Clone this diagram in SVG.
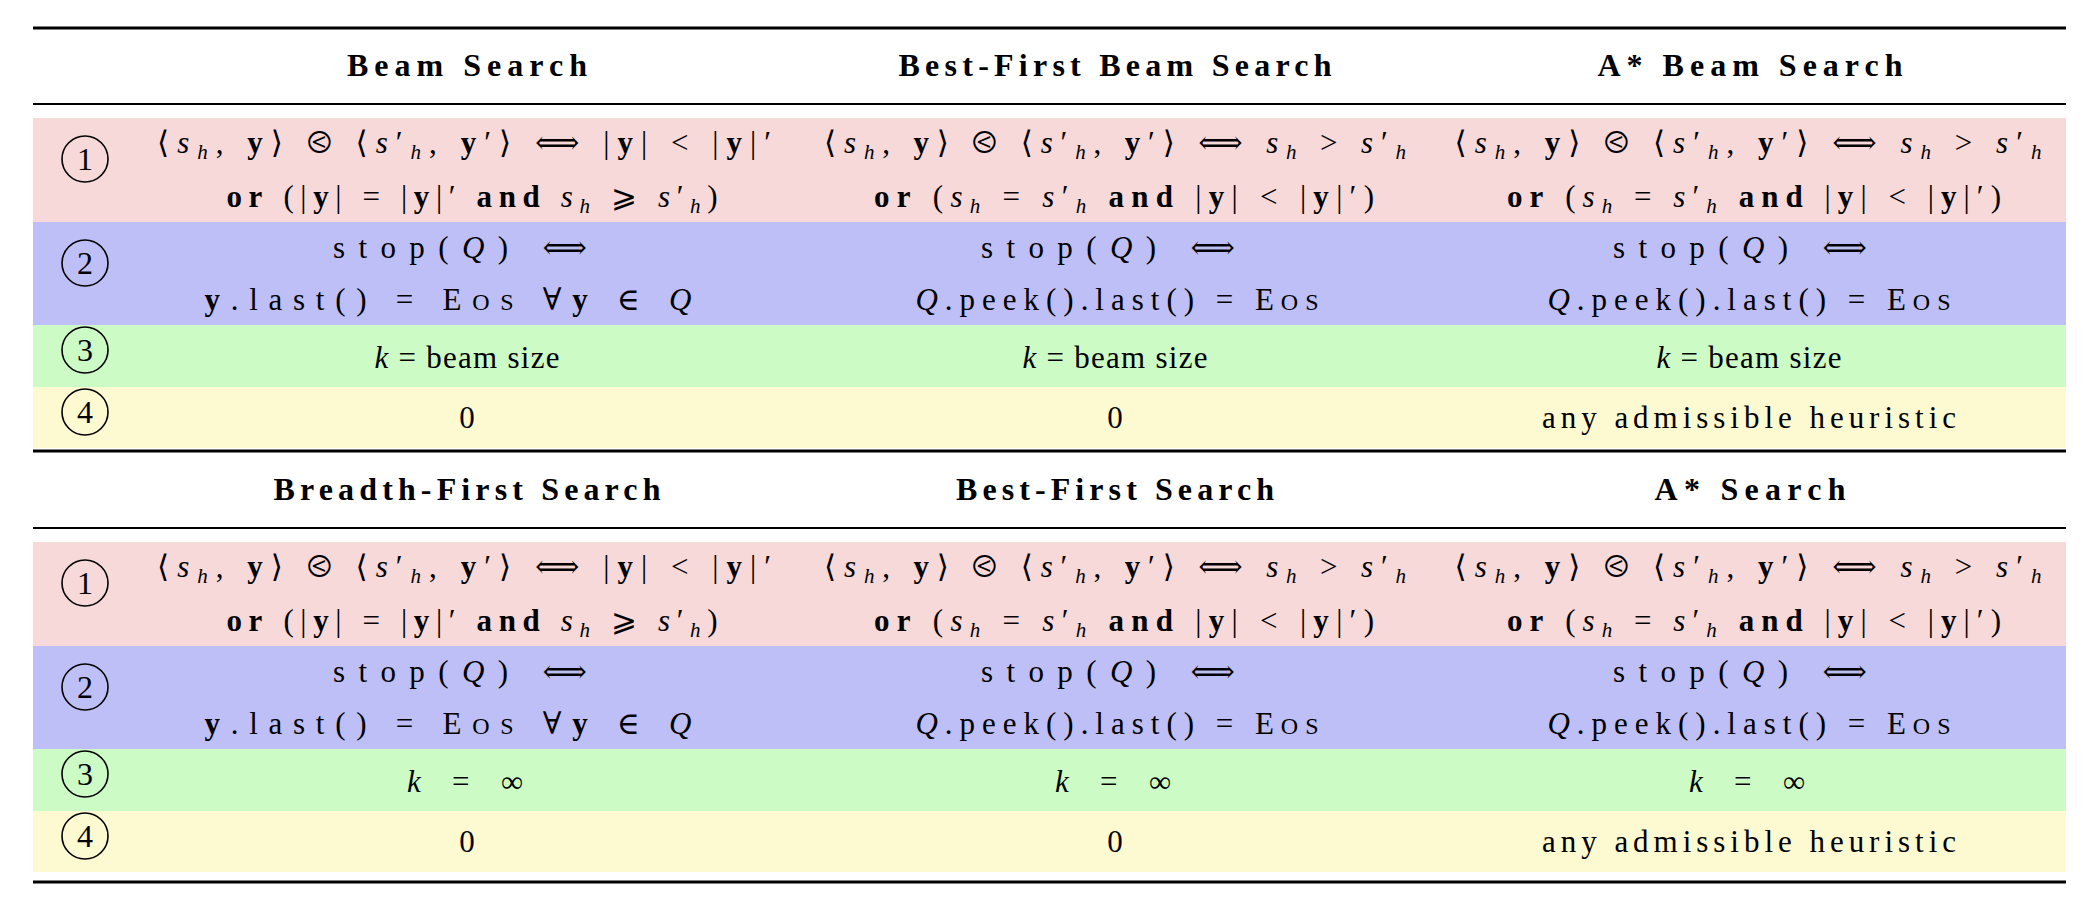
<svg xmlns="http://www.w3.org/2000/svg" width="2092" height="914" viewBox="0 0 2092 914">
<style>
text{font-family:"Liberation Serif","DejaVu Serif",serif;fill:#000}
.h{font-size:32px;font-weight:bold;text-anchor:middle}
.m{font-size:31px;text-anchor:middle}
.i{font-style:italic}
.b{font-weight:bold}
.s{font-size:21px;font-style:italic}
.sc{font-size:24px}
.n{font-size:32px;text-anchor:middle}
.rule{stroke:#000}
.c{fill:none;stroke:#000;stroke-width:1.6}
</style>
<rect width="2092" height="914" fill="#fff"/>
<g id="rules">
<line class="rule" x1="33" y1="28" x2="2066" y2="28" stroke-width="3"/>
<line class="rule" x1="33" y1="104" x2="2066" y2="104" stroke-width="2"/>
<line class="rule" x1="33" y1="451" x2="2066" y2="451" stroke-width="3"/>
<line class="rule" x1="33" y1="528" x2="2066" y2="528" stroke-width="2"/>
<line class="rule" x1="33" y1="882" x2="2066" y2="882" stroke-width="3"/>
</g>
<g id="table1">
<rect x="33" y="118" width="2033" height="104" fill="#f7d9da"/>
<rect x="33" y="222" width="2033" height="103" fill="#bfbff7"/>
<rect x="33" y="325" width="2033" height="62" fill="#ccfbc6"/>
<rect x="33" y="387" width="2033" height="61" fill="#fdf9d0"/>
<text class="h" x="467" y="76" textLength="240">Beam Search</text>
<text class="h" x="1115" y="76" textLength="433">Best-First Beam Search</text>
<text class="h" x="1750" y="76" textLength="305">A* Beam Search</text>
<g id="nums1">
<circle class="c" cx="85" cy="159" r="23"/><text class="n" x="85" y="170">1</text>
<circle class="c" cx="85" cy="263" r="23"/><text class="n" x="85" y="274">2</text>
<circle class="c" cx="85" cy="350" r="23"/><text class="n" x="85" y="361">3</text>
<circle class="c" cx="85" cy="412" r="23"/><text class="n" x="85" y="423">4</text>
</g>
<text class="m" x="464" y="153" textLength="614">⟨<tspan class="i">s</tspan><tspan class="s" dy="6">h</tspan><tspan dy="-6">, </tspan><tspan class="b">y</tspan>⟩ ⧀ ⟨<tspan class="i">s</tspan>′<tspan class="s" dy="6">h</tspan><tspan dy="-6">, </tspan><tspan class="b">y</tspan>′⟩ ⟺ |<tspan class="b">y</tspan>| &lt; |<tspan class="b">y</tspan>|′</text>
<text class="m" x="472" y="207" textLength="491"><tspan class="b">or</tspan> (|<tspan class="b">y</tspan>| = |<tspan class="b">y</tspan>|′ <tspan class="b">and</tspan> <tspan class="i">s</tspan><tspan class="s" dy="6">h</tspan><tspan dy="-6"> ⩾ </tspan><tspan class="i">s</tspan>′<tspan class="s" dy="6">h</tspan><tspan dy="-6">)</tspan></text>
<text class="m" x="1115" y="153" textLength="582">⟨<tspan class="i">s</tspan><tspan class="s" dy="6">h</tspan><tspan dy="-6">, </tspan><tspan class="b">y</tspan>⟩ ⧀ ⟨<tspan class="i">s</tspan>′<tspan class="s" dy="6">h</tspan><tspan dy="-6">, </tspan><tspan class="b">y</tspan>′⟩ ⟺ <tspan class="i">s</tspan><tspan class="s" dy="6">h</tspan><tspan dy="-6"> &gt; </tspan><tspan class="i">s</tspan>′<tspan class="s" dy="6">h</tspan></text>
<text class="m" x="1124" y="207" textLength="500"><tspan class="b">or</tspan> (<tspan class="i">s</tspan><tspan class="s" dy="6">h</tspan><tspan dy="-6"> = </tspan><tspan class="i">s</tspan>′<tspan class="s" dy="6">h</tspan><tspan dy="-6"> </tspan><tspan class="b">and</tspan> |<tspan class="b">y</tspan>| &lt; |<tspan class="b">y</tspan>|′)</text>
<text class="m" x="1748" y="153" textLength="587">⟨<tspan class="i">s</tspan><tspan class="s" dy="6">h</tspan><tspan dy="-6">, </tspan><tspan class="b">y</tspan>⟩ ⧀ ⟨<tspan class="i">s</tspan>′<tspan class="s" dy="6">h</tspan><tspan dy="-6">, </tspan><tspan class="b">y</tspan>′⟩ ⟺ <tspan class="i">s</tspan><tspan class="s" dy="6">h</tspan><tspan dy="-6"> &gt; </tspan><tspan class="i">s</tspan>′<tspan class="s" dy="6">h</tspan></text>
<text class="m" x="1754" y="207" textLength="494"><tspan class="b">or</tspan> (<tspan class="i">s</tspan><tspan class="s" dy="6">h</tspan><tspan dy="-6"> = </tspan><tspan class="i">s</tspan>′<tspan class="s" dy="6">h</tspan><tspan dy="-6"> </tspan><tspan class="b">and</tspan> |<tspan class="b">y</tspan>| &lt; |<tspan class="b">y</tspan>|′)</text>
<text class="m" x="460" y="258" textLength="254">stop(<tspan class="i">Q</tspan>) ⟺</text>
<text class="m" x="448" y="310" textLength="487"><tspan class="b">y</tspan>.last() = E<tspan class="sc">OS</tspan>   ∀<tspan class="b">y</tspan> ∈ <tspan class="i">Q</tspan></text>
<text class="m" x="1108" y="258" textLength="254">stop(<tspan class="i">Q</tspan>) ⟺</text>
<text class="m" x="1117" y="310" textLength="403"><tspan class="i">Q</tspan>.peek().last() = E<tspan class="sc">OS</tspan></text>
<text class="m" x="1740" y="258" textLength="254">stop(<tspan class="i">Q</tspan>) ⟺</text>
<text class="m" x="1749" y="310" textLength="403"><tspan class="i">Q</tspan>.peek().last() = E<tspan class="sc">OS</tspan></text>
<text class="m" x="467" y="368" textLength="185"><tspan class="i">k</tspan> = beam size</text>
<text class="m" x="1115" y="368" textLength="185"><tspan class="i">k</tspan> = beam size</text>
<text class="m" x="1749" y="368" textLength="185"><tspan class="i">k</tspan> = beam size</text>
<text class="m" x="467" y="428">0</text>
<text class="m" x="1115" y="428">0</text>
<text class="m" x="1749" y="428" textLength="414">any admissible heuristic</text>
</g>
<g id="table2" transform="translate(0,424)">
<rect x="33" y="118" width="2033" height="104" fill="#f7d9da"/>
<rect x="33" y="222" width="2033" height="103" fill="#bfbff7"/>
<rect x="33" y="325" width="2033" height="62" fill="#ccfbc6"/>
<rect x="33" y="387" width="2033" height="61" fill="#fdf9d0"/>
<text class="h" x="467" y="76" textLength="387">Breadth-First Search</text>
<text class="h" x="1115" y="76" textLength="318">Best-First Search</text>
<text class="h" x="1750" y="76" textLength="191">A* Search</text>
<g id="nums2">
<circle class="c" cx="85" cy="159" r="23"/><text class="n" x="85" y="170">1</text>
<circle class="c" cx="85" cy="263" r="23"/><text class="n" x="85" y="274">2</text>
<circle class="c" cx="85" cy="350" r="23"/><text class="n" x="85" y="361">3</text>
<circle class="c" cx="85" cy="412" r="23"/><text class="n" x="85" y="423">4</text>
</g>
<text class="m" x="464" y="153" textLength="614">⟨<tspan class="i">s</tspan><tspan class="s" dy="6">h</tspan><tspan dy="-6">, </tspan><tspan class="b">y</tspan>⟩ ⧀ ⟨<tspan class="i">s</tspan>′<tspan class="s" dy="6">h</tspan><tspan dy="-6">, </tspan><tspan class="b">y</tspan>′⟩ ⟺ |<tspan class="b">y</tspan>| &lt; |<tspan class="b">y</tspan>|′</text>
<text class="m" x="472" y="207" textLength="491"><tspan class="b">or</tspan> (|<tspan class="b">y</tspan>| = |<tspan class="b">y</tspan>|′ <tspan class="b">and</tspan> <tspan class="i">s</tspan><tspan class="s" dy="6">h</tspan><tspan dy="-6"> ⩾ </tspan><tspan class="i">s</tspan>′<tspan class="s" dy="6">h</tspan><tspan dy="-6">)</tspan></text>
<text class="m" x="1115" y="153" textLength="582">⟨<tspan class="i">s</tspan><tspan class="s" dy="6">h</tspan><tspan dy="-6">, </tspan><tspan class="b">y</tspan>⟩ ⧀ ⟨<tspan class="i">s</tspan>′<tspan class="s" dy="6">h</tspan><tspan dy="-6">, </tspan><tspan class="b">y</tspan>′⟩ ⟺ <tspan class="i">s</tspan><tspan class="s" dy="6">h</tspan><tspan dy="-6"> &gt; </tspan><tspan class="i">s</tspan>′<tspan class="s" dy="6">h</tspan></text>
<text class="m" x="1124" y="207" textLength="500"><tspan class="b">or</tspan> (<tspan class="i">s</tspan><tspan class="s" dy="6">h</tspan><tspan dy="-6"> = </tspan><tspan class="i">s</tspan>′<tspan class="s" dy="6">h</tspan><tspan dy="-6"> </tspan><tspan class="b">and</tspan> |<tspan class="b">y</tspan>| &lt; |<tspan class="b">y</tspan>|′)</text>
<text class="m" x="1748" y="153" textLength="587">⟨<tspan class="i">s</tspan><tspan class="s" dy="6">h</tspan><tspan dy="-6">, </tspan><tspan class="b">y</tspan>⟩ ⧀ ⟨<tspan class="i">s</tspan>′<tspan class="s" dy="6">h</tspan><tspan dy="-6">, </tspan><tspan class="b">y</tspan>′⟩ ⟺ <tspan class="i">s</tspan><tspan class="s" dy="6">h</tspan><tspan dy="-6"> &gt; </tspan><tspan class="i">s</tspan>′<tspan class="s" dy="6">h</tspan></text>
<text class="m" x="1754" y="207" textLength="494"><tspan class="b">or</tspan> (<tspan class="i">s</tspan><tspan class="s" dy="6">h</tspan><tspan dy="-6"> = </tspan><tspan class="i">s</tspan>′<tspan class="s" dy="6">h</tspan><tspan dy="-6"> </tspan><tspan class="b">and</tspan> |<tspan class="b">y</tspan>| &lt; |<tspan class="b">y</tspan>|′)</text>
<text class="m" x="460" y="258" textLength="254">stop(<tspan class="i">Q</tspan>) ⟺</text>
<text class="m" x="448" y="310" textLength="487"><tspan class="b">y</tspan>.last() = E<tspan class="sc">OS</tspan>   ∀<tspan class="b">y</tspan> ∈ <tspan class="i">Q</tspan></text>
<text class="m" x="1108" y="258" textLength="254">stop(<tspan class="i">Q</tspan>) ⟺</text>
<text class="m" x="1117" y="310" textLength="403"><tspan class="i">Q</tspan>.peek().last() = E<tspan class="sc">OS</tspan></text>
<text class="m" x="1740" y="258" textLength="254">stop(<tspan class="i">Q</tspan>) ⟺</text>
<text class="m" x="1749" y="310" textLength="403"><tspan class="i">Q</tspan>.peek().last() = E<tspan class="sc">OS</tspan></text>
<text class="m" x="465" y="368" textLength="116"><tspan class="i">k</tspan> = ∞</text>
<text class="m" x="1113" y="368" textLength="116"><tspan class="i">k</tspan> = ∞</text>
<text class="m" x="1747" y="368" textLength="116"><tspan class="i">k</tspan> = ∞</text>
<text class="m" x="467" y="428">0</text>
<text class="m" x="1115" y="428">0</text>
<text class="m" x="1749" y="428" textLength="414">any admissible heuristic</text>
</g>
</svg>
